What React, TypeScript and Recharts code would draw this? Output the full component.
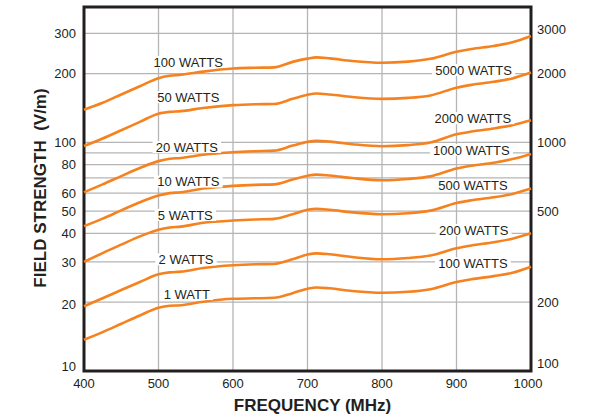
import React from "react";
import {
    LineChart,
    Line,
    XAxis,
    YAxis,
    CartesianGrid,
    ReferenceArea,
    ReferenceDot,
    Label,
} from "recharts";

const freqs = [400, 425, 450, 475, 500, 515, 530, 560, 600, 630, 655, 680, 700, 712, 730, 760, 800, 835, 865, 900, 920, 950, 975, 1000];

const watts1 = [13.7, 14.8, 16.1, 17.5, 18.9, 19.3, 19.4, 20.1, 20.7, 20.8, 20.9, 21.9, 22.9, 23.2, 23.0, 22.4, 22.0, 22.2, 22.8, 24.5, 25.2, 26.0, 26.9, 28.6];
const watts2 = [19.2, 20.8, 22.6, 24.5, 26.5, 27.0, 27.2, 28.2, 29.0, 29.3, 29.4, 30.8, 32.3, 32.7, 32.4, 31.5, 30.8, 31.2, 32.0, 34.4, 35.4, 36.6, 37.9, 40.0];
const watts5 = [30.0, 32.8, 35.7, 38.8, 41.5, 42.4, 42.8, 44.5, 45.5, 46.0, 46.3, 48.5, 50.7, 51.2, 50.7, 49.4, 48.5, 49.0, 50.3, 54.3, 55.8, 57.5, 59.5, 62.8];
const watts10 = [43.0, 46.4, 50.4, 54.7, 58.5, 60.0, 60.5, 62.8, 64.5, 65.2, 65.5, 68.8, 71.5, 72.3, 71.6, 69.8, 68.3, 69.2, 71.0, 76.8, 79.0, 81.5, 84.5, 89.0];
const watts20 = [60.5, 65.5, 71.2, 77.3, 82.8, 84.8, 85.5, 88.3, 90.6, 91.5, 92.0, 96.8, 100.5, 101.5, 100.8, 98.2, 96.2, 97.3, 99.8, 108.5, 111.5, 115.0, 119.0, 125.0];
const watts50 = [96.5, 104.0, 113.0, 123.0, 133.5, 136.0, 137.0, 141.5, 145.5, 146.8, 147.2, 155.0, 161.5, 163.5, 162.0, 158.0, 155.0, 156.5, 160.5, 173.5, 178.5, 184.0, 190.5, 202.0];
const watts100 = [139.0, 149.0, 162.0, 176.0, 191.0, 195.5, 197.5, 204.0, 210.5, 212.0, 212.8, 225.0, 232.5, 235.5, 233.0, 227.0, 223.0, 225.5, 232.0, 249.0, 256.0, 264.0, 274.0, 292.0];

const xTicks = [400, 500, 600, 700, 800, 900, 1000];
const leftTicks = [10, 20, 30, 40, 50, 60, 70, 80, 90, 100, 200, 300];
const leftLabels = [10, 20, 30, 40, 50, 60, 80, 100, 200, 300];
const rightTicks = [100, 200, 500, 1000, 2000, 3000];

// label anchors in data units (MHz, V/m on the left scale)
const curveLabels = [
    { text: "100 WATTS", freq: 540, field: 225 },
    { text: "50 WATTS", freq: 540, field: 157.7 },
    { text: "20 WATTS", freq: 538, field: 95.5 },
    { text: "10 WATTS", freq: 540, field: 67.4 },
    { text: "5 WATTS", freq: 536, field: 48.2 },
    { text: "2 WATTS", freq: 537, field: 30.8 },
    { text: "1 WATT", freq: 538, field: 21.7 },
    { text: "5000 WATTS", freq: 923, field: 207.5 },
    { text: "2000 WATTS", freq: 922, field: 127.6 },
    { text: "1000 WATTS", freq: 920, field: 92.7 },
    { text: "500 WATTS", freq: 922, field: 64.7 },
    { text: "200 WATTS", freq: 923, field: 41.4 },
    { text: "100 WATTS", freq: 922, field: 29.6 },
];

const series = [
    { key: "w1", values: watts1 },
    { key: "w2", values: watts2 },
    { key: "w5", values: watts5 },
    { key: "w10", values: watts10 },
    { key: "w20", values: watts20 },
    { key: "w50", values: watts50 },
    { key: "w100", values: watts100 },
];

const data = freqs.map((f, i) => {
    const row: any = { freq: f };
    series.forEach((s) => (row[s.key] = s.values[i]));
    return row;
});

const Y_MIN = 10;
const Y_MAX = 391;
const FONT = "'Liberation Sans', Arial, Helvetica, sans-serif";
const INK = "#231f20";
const ORANGE = "#f5821f";
const GRID = "#b5b5b5";

const charW: Record<string, number> = { " ": 278, W: 944, A: 667, T: 611, S: 667 };
const textWidth = (t: string, size: number) =>
    t.split("").reduce((sum, c) => sum + (charW[c] ?? 556), 0) * size / 1000;

const LeftTick = (props: any) => {
    const { x, y, payload } = props;
    if (!leftLabels.includes(payload.value)) return <g />;
    const nudge = payload.value === 10 ? -5 : payload.value === 20 ? 2 : 0;
    return (
        <text x={x - 8} y={y + nudge} dy="0.36em" textAnchor="end" fill={INK} fontSize={13} fontFamily={FONT}>
            {payload.value}
        </text>
    );
};

const RightTick = (props: any) => {
    const { x, y, payload } = props;
    const nudge = payload.value === 100 ? -8 : payload.value === 3000 ? -4 : 0;
    return (
        <text x={x + 6} y={y + nudge} dy="0.36em" textAnchor="start" fill={INK} fontSize={13} fontFamily={FONT}>
            {payload.value}
        </text>
    );
};

const BottomTick = (props: any) => {
    const { x, y, payload } = props;
    const nudge = payload.value === 1000 ? -3 : 0;
    return (
        <text x={x + nudge} y={y + 17} textAnchor="middle" fill={INK} fontSize={13} fontFamily={FONT}>
            {payload.value}
        </text>
    );
};

const YTitle = (props: any) => {
    const vb = props.viewBox;
    const cx = vb.x + 40;
    const cy = vb.y + vb.height / 2 - 1;
    return (
        <text
            x={cx}
            y={cy}
            transform={`rotate(-90 ${cx} ${cy})`}
            textAnchor="middle"
            dominantBaseline="central"
            fill={INK}
            fontSize={17}
            fontWeight="bold"
            fontFamily={FONT}
            style={{ whiteSpace: "pre" }}
        >
            {"FIELD STRENGTH  (V/m)"}
        </text>
    );
};

const XTitle = (props: any) => {
    const vb = props.viewBox;
    return (
        <text
            x={vb.x + vb.width / 2 + 5}
            y={vb.y + 34}
            textAnchor="middle"
            dominantBaseline="central"
            fill={INK}
            fontSize={17}
            fontWeight="bold"
            fontFamily={FONT}
        >
            FREQUENCY (MHz)
        </text>
    );
};

const makeTag = (text: string) => (props: any) => {
    const { cx, cy } = props;
    const w = textWidth(text, 13) + 5;
    return (
        <g>
            <rect x={cx - w / 2} y={cy - 6} width={w} height={12} fill="#fff" />
            <text x={cx} y={cy} dy="0.36em" textAnchor="middle" fill={INK} fontSize={13} fontFamily={FONT}>
                {text}
            </text>
        </g>
    );
};

export default function App() {
    return (
        <div style={{ width: 592, height: 417, background: "#fff" }}>
            <style>{"body{margin:0}"}</style>
            <LineChart width={592} height={417} data={data} margin={{ top: 7, right: 0, left: 0, bottom: 0 }}>
                <CartesianGrid stroke={GRID} strokeWidth={1.3} />
                <XAxis
                    dataKey="freq"
                    type="number"
                    domain={[400, 1000]}
                    ticks={xTicks}
                    height={46}
                    axisLine={false}
                    tickLine={false}
                    tickSize={0}
                    tickMargin={0}
                    tick={<BottomTick />}
                    interval={0}
                >
                    <Label content={<XTitle />} />
                </XAxis>
                <YAxis
                    yAxisId={0}
                    scale="log"
                    type="number"
                    domain={[Y_MIN, Y_MAX]}
                    allowDataOverflow
                    ticks={leftTicks}
                    width={84}
                    axisLine={false}
                    tickLine={false}
                    tickSize={0}
                    tickMargin={0}
                    tick={<LeftTick />}
                    interval={0}
                >
                    <Label content={<YTitle />} />
                </YAxis>
                <YAxis
                    yAxisId="right"
                    orientation="right"
                    scale="log"
                    type="number"
                    domain={[Y_MIN * 10, Y_MAX * 10]}
                    allowDataOverflow
                    ticks={rightTicks}
                    width={61}
                    axisLine={false}
                    tickLine={false}
                    tickSize={0}
                    tickMargin={0}
                    tick={<RightTick />}
                    interval={0}
                />
                {series.map((s) => (
                    <Line
                        key={s.key}
                        yAxisId={0}
                        dataKey={s.key}
                        type="monotone"
                        stroke={ORANGE}
                        strokeWidth={2.6}
                        dot={false}
                        activeDot={false}
                        isAnimationActive={false}
                    />
                ))}
                {curveLabels.map((l, i) => (
                    <ReferenceDot
                        key={`lbl-${i}`}
                        yAxisId={0}
                        x={l.freq}
                        y={l.field}
                        r={0}
                        ifOverflow="visible"
                        shape={makeTag(l.text)}
                    />
                ))}
                <ReferenceArea
                    yAxisId={0}
                    x1={400}
                    x2={1000}
                    y1={Y_MIN}
                    y2={Y_MAX}
                    ifOverflow="visible"
                    fill="none"
                    fillOpacity={0}
                    stroke={INK}
                    strokeWidth={3}
                />
            </LineChart>
        </div>
    );
}
